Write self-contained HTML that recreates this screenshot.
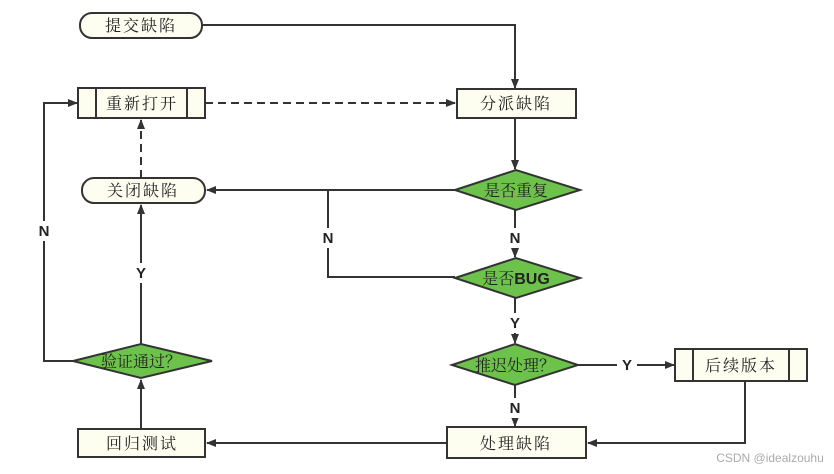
<!DOCTYPE html>
<html><head><meta charset="utf-8"><style>body{margin:0;background:#fff}svg{display:block}</style></head><body>
<svg width="834" height="474" viewBox="0 0 834 474" xmlns="http://www.w3.org/2000/svg">
<defs><marker id="a" markerWidth="10" markerHeight="8" refX="9" refY="4" orient="auto" markerUnits="userSpaceOnUse"><path d="M0,0 L10,4 L0,8 z" fill="#333"/></marker></defs>
<g stroke="#333" stroke-width="2" fill="none">
<polyline points="202,25 515,25 515,88" marker-end="url(#a)"/>
<line x1="205" y1="103" x2="455" y2="103" stroke-dasharray="8,5" marker-end="url(#a)"/>
<line x1="141" y1="178" x2="141" y2="120" stroke-dasharray="8,5" marker-end="url(#a)"/>
<line x1="515" y1="118" x2="515" y2="169" marker-end="url(#a)"/>
<line x1="455" y1="190" x2="207" y2="190" marker-end="url(#a)"/>
<polyline points="328,190 328,277 455,277"/>
<line x1="515" y1="210" x2="515" y2="257" marker-end="url(#a)"/>
<line x1="515" y1="298" x2="515" y2="343" marker-end="url(#a)"/>
<line x1="578" y1="365" x2="674" y2="365" marker-end="url(#a)"/>
<line x1="515" y1="385" x2="515" y2="426" marker-end="url(#a)"/>
<polyline points="745,381 745,443 588,443" marker-end="url(#a)"/>
<line x1="447" y1="443" x2="207" y2="443" marker-end="url(#a)"/>
<line x1="141" y1="429" x2="141" y2="380" marker-end="url(#a)"/>
<line x1="141" y1="344" x2="141" y2="205" marker-end="url(#a)"/>
<polyline points="73,361 44,361 44,103 77,103" marker-end="url(#a)"/>
</g>
<g fill="#fff" font-family="Liberation Sans,Arial,sans-serif" font-weight="bold" font-size="15" fill-opacity="1">
<rect x="34" y="221" width="20" height="20"/><rect x="131" y="263" width="20" height="20"/><rect x="318" y="228" width="20" height="20"/>
<rect x="505" y="228" width="20" height="20"/><rect x="505" y="313" width="20" height="20"/><rect x="505" y="398" width="20" height="20"/><rect x="617" y="355" width="20" height="20"/>
</g>
<g font-family="Liberation Sans,Arial,sans-serif" font-weight="bold" font-size="15" fill="#222" text-anchor="middle">
<text x="44" y="236">N</text><text x="141" y="278">Y</text><text x="328" y="243">N</text>
<text x="515" y="243">N</text><text x="515" y="328">Y</text><text x="515" y="413">N</text><text x="627" y="370">Y</text>
</g>
<g stroke="#333" stroke-width="2" fill="#fdfdf0">
<rect x="80" y="13" width="122" height="25" rx="12"/>
<rect x="82" y="178" width="123" height="25" rx="12"/>
<rect x="78" y="88" width="127" height="30"/><line x1="96" y1="88" x2="96" y2="118"/><line x1="187" y1="88" x2="187" y2="118"/>
<rect x="457" y="89" width="119" height="29"/>
<rect x="675" y="349" width="132" height="32"/><line x1="693" y1="349" x2="693" y2="381"/><line x1="789" y1="349" x2="789" y2="381"/>
<rect x="447" y="427" width="139" height="31"/>
<rect x="78" y="429" width="127" height="28"/>
</g>
<g stroke="#333" stroke-width="2" fill="#6cc24a">
<polygon points="455,190 516,170 580,190 516,210"/>
<polygon points="455,278 516,258 580,278 516,298"/>
<polygon points="452,365 515,344 578,365 515,385"/>
<polygon points="73,361 141,344 212,361 141,378"/>
</g>
<g font-family="Liberation Serif,'Noto Serif CJK SC',serif" font-size="16" fill="#222" text-anchor="middle">
<text x="141" y="31" letter-spacing="2">提交缺陷</text>
<text x="142" y="109" letter-spacing="2">重新打开</text>
<text x="516" y="109" letter-spacing="2">分派缺陷</text>
<text x="143" y="196" letter-spacing="2">关闭缺陷</text>
<text x="516" y="196">是否重复</text>
<text x="516" y="284">是否<tspan font-family="Liberation Sans,sans-serif" font-weight="bold">BUG</tspan></text>
<text x="515" y="371">推迟处理？</text>
<text x="741" y="371" letter-spacing="2">后续版本</text>
<text x="516" y="449" letter-spacing="2">处理缺陷</text>
<text x="142" y="449" letter-spacing="2">回归测试</text>
<text x="141" y="367">验证通过？</text>
</g>
<text x="770" y="462" font-family="Liberation Sans,sans-serif" font-size="12" fill="#aaa" text-anchor="middle">CSDN @idealzouhu</text>
</svg>
</body></html>
